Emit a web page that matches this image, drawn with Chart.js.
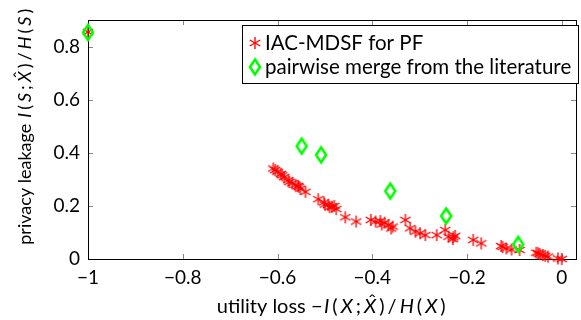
<!DOCTYPE html>
<html>
<head>
<meta charset="utf-8">
<script src="https://cdn.jsdelivr.net/npm/chart.js@4.4.1/dist/chart.umd.min.js"></script>
<style>
  html, body { margin: 0; padding: 0; background: #fff; }
  #wrap { width: 581px; height: 320px; position: relative; }
</style>
</head>
<body>
<div id="wrap"><canvas id="myChart" width="581" height="320"></canvas></div>
<script>
// IAC-MDSF for PF (red asterisks)
const iacX = [-1, -0.609, -0.605, -0.600, -0.593, -0.590, -0.586, -0.577, -0.575, -0.569, -0.562, -0.557, -0.555, -0.552, -0.541,
  -0.514, -0.502, -0.500, -0.493, -0.490, -0.485, -0.480, -0.476, -0.457, -0.434, -0.403, -0.393, -0.383, -0.380, -0.374,
  -0.366, -0.360, -0.357, -0.330, -0.320, -0.309, -0.299, -0.288, -0.264, -0.246, -0.239, -0.230, -0.229, -0.225, -0.187,
  -0.170, -0.128, -0.125, -0.117, -0.106, -0.089, -0.054, -0.050, -0.047, -0.040, -0.035, -0.029, -0.008, 0];
const iacY = [0.855, 0.341, 0.335, 0.329, 0.320, 0.315, 0.308, 0.297, 0.290, 0.285, 0.279, 0.275, 0.272, 0.265, 0.253,
  0.225, 0.213, 0.205, 0.203, 0.195, 0.197, 0.200, 0.188, 0.157, 0.141, 0.147, 0.141, 0.143, 0.130, 0.137,
  0.128, 0.115, 0.122, 0.147, 0.116, 0.103, 0.097, 0.090, 0.090, 0.109, 0.084, 0.075, 0.082, 0.087, 0.072,
  0.059, 0.049, 0.045, 0.040, 0.036, 0.034, 0.024, 0.022, 0.019, 0.015, 0.012, 0.009, 0.002, 0];

// pairwise merge from the literature (green diamonds)
const litX = [-1, -0.549, -0.508, -0.362, -0.244, -0.092];
const litY = [0.853, 0.425, 0.392, 0.256, 0.162, 0.055];

const xTicks = [-1, -0.8, -0.6, -0.4, -0.2, 0];
const yTicks = [0, 0.2, 0.4, 0.6, 0.8];

const seriesNames = ['IAC-MDSF for PF', 'pairwise merge from the literature'];

const FONT = 'Lato, "Open Sans", sans-serif';

// marker images
function makeAsterisk() {
    const c = document.createElement('canvas');
    c.width = 16; c.height = 16;
    const g = c.getContext('2d');
    g.strokeStyle = '#ff0000';
    g.lineWidth = 1.35;
    const r = 6;
    [90, 30, 150].forEach(a => {
        const t = a * Math.PI / 180;
        g.beginPath();
        g.moveTo(8 - r * Math.cos(t), 8 - r * Math.sin(t));
        g.lineTo(8 + r * Math.cos(t), 8 + r * Math.sin(t));
        g.stroke();
    });
    return c;
}

function makeDiamond() {
    const c = document.createElement('canvas');
    c.width = 16; c.height = 20;
    const g = c.getContext('2d');
    g.strokeStyle = '#00ff00';
    g.lineWidth = 2.6;
    g.beginPath();
    g.moveTo(8, 2.5);
    g.lineTo(13, 10);
    g.lineTo(8, 17.5);
    g.lineTo(3, 10);
    g.closePath();
    g.stroke();
    return c;
}

const asterisk = makeAsterisk();
const diamond = makeDiamond();

function fmt(v) {
    if (v === 0) return '0';
    return (v < 0 ? '\u2212' : '') + Math.abs(v);
}

// frame with inward ticks on all sides
const framePlugin = {
    id: 'frame',
    beforeDatasetsDraw(chart) {
        const { ctx, chartArea: a, scales } = chart;
        ctx.save();
        ctx.strokeStyle = '#888';
        ctx.lineWidth = 1;
        const t = 5;
        xTicks.forEach(v => {
            const x = Math.round(scales.x.getPixelForValue(v)) + 0.5;
            ctx.beginPath();
            ctx.moveTo(x, a.bottom); ctx.lineTo(x, a.bottom - t);
            ctx.moveTo(x, a.top); ctx.lineTo(x, a.top + t);
            ctx.stroke();
        });
        yTicks.forEach(v => {
            const y = Math.round(scales.y.getPixelForValue(v)) + 0.5;
            ctx.beginPath();
            ctx.moveTo(a.left, y); ctx.lineTo(a.left + t, y);
            ctx.moveTo(a.right, y); ctx.lineTo(a.right - t, y);
            ctx.stroke();
        });
        ctx.strokeStyle = '#000';
        ctx.strokeRect(Math.round(a.left) + 0.5, Math.round(a.top) + 0.5,
            Math.round(a.right - a.left), Math.round(a.bottom - a.top));
        ctx.restore();
    }
};

// draws a list of [text, italic, hat, math] pieces in a row, math pieces get extra room
const MATH_GAP = 3;
function drawPieces(ctx, pieces, size) {
    const widths = pieces.map(p => {
        ctx.font = (p[1] ? 'italic ' : '') + size + 'px ' + FONT;
        return ctx.measureText(p[0]).width + (p[3] ? MATH_GAP : 0);
    });
    const w = widths.reduce((a, b) => a + b, 0);
    let x = -w / 2;
    pieces.forEach((p, i) => {
        ctx.font = (p[1] ? 'italic ' : '') + size + 'px ' + FONT;
        const pw = ctx.measureText(p[0]).width;
        ctx.fillText(p[0], x + (p[3] ? MATH_GAP / 2 : 0), 0);
        if (p[2]) {
            ctx.font = size + 'px ' + FONT;
            const hw = ctx.measureText('\u02C6').width;
            ctx.fillText('\u02C6', x + MATH_GAP / 2 + pw / 2 - hw / 2 + 2, -5);
        }
        x += widths[i];
    });
}

function mathPieces(text, v) {
    return [[text, false, false, false], ['I', true, false, true], ['(', false, false, true], [v, true, false, true],
        [';', false, false, true], ['X', true, true, true], [')', false, false, true], ['/', false, false, true],
        ['H', true, false, true], ['(', false, false, true], [v, true, false, true], [')', false, false, true]];
}

const titlePlugin = {
    id: 'titles',
    afterDraw(chart) {
        const { ctx, chartArea: a } = chart;
        ctx.save();
        ctx.fillStyle = '#000';
        ctx.textBaseline = 'alphabetic';
        ctx.textAlign = 'left';
        ctx.translate((a.left + a.right) / 2, 313);
        drawPieces(ctx, mathPieces('utility loss \u2212', 'X'), 20);
        ctx.restore();

        ctx.save();
        ctx.fillStyle = '#000';
        ctx.textBaseline = 'alphabetic';
        ctx.textAlign = 'left';
        ctx.translate(31, 126);
        ctx.rotate(-Math.PI / 2);
        drawPieces(ctx, mathPieces('privacy leakage ', 'S'), 18);
        ctx.restore();
    }
};

const legendPlugin = {
    id: 'boxLegend',
    afterDraw(chart) {
        const ctx = chart.ctx;
        ctx.save();
        ctx.fillStyle = '#fff';
        ctx.fillRect(242.5, 25.5, 336, 58);
        ctx.strokeStyle = '#000';
        ctx.lineWidth = 1;
        ctx.strokeRect(242.5, 25.5, 336, 58);
        ctx.drawImage(asterisk, 255 - 8, 43 - 8);
        ctx.drawImage(diamond, 255 - 8, 67 - 10);
        ctx.fillStyle = '#000';
        ctx.font = '20.5px ' + FONT;
        ctx.textBaseline = 'alphabetic';
        ctx.fillText(seriesNames[0], 265, 50);
        ctx.fillText(seriesNames[1], 265, 74);
        ctx.restore();
    }
};

const ctx = document.getElementById('myChart');

const chart = new Chart(ctx, {
    type: 'scatter',
    data: {
        datasets: [
            {
                label: seriesNames[0],
                data: iacX.map((x, i) => ({ x: x, y: iacY[i] })),
                pointStyle: asterisk,
                order: 1,
                clip: false
            },
            {
                label: seriesNames[1],
                data: litX.map((x, i) => ({ x: x, y: litY[i] })),
                pointStyle: diamond,
                order: 0,
                clip: false
            }
        ]
    },
    options: {
        responsive: false,
        animation: false,
        events: [],
        layout: { padding: { top: 20, right: 2, left: 0, bottom: 0 } },
        plugins: {
            legend: { display: false },
            tooltip: { enabled: false }
        },
        scales: {
            x: {
                type: 'linear',
                min: -1,
                max: 0.03,
                grid: { display: false, drawTicks: false },
                border: { display: false },
                afterBuildTicks: s => { s.ticks = xTicks.map(v => ({ value: v })); },
                afterFit: s => { s.height = 61; },
                ticks: {
                    padding: 7,
                    color: '#000',
                    font: { family: FONT, size: 19 },
                    maxRotation: 0,
                    callback: v => fmt(v)
                }
            },
            y: {
                type: 'linear',
                min: 0,
                max: 0.9,
                grid: { display: false, drawTicks: false },
                border: { display: false },
                afterBuildTicks: s => { s.ticks = yTicks.map(v => ({ value: v })); },
                afterFit: s => { s.width = 88; },
                ticks: {
                    padding: 8,
                    color: '#000',
                    font: { family: FONT, size: 19 },
                    callback: v => fmt(v)
                }
            }
        }
    },
    plugins: [framePlugin, titlePlugin, legendPlugin]
});
</script>
</body>
</html>
